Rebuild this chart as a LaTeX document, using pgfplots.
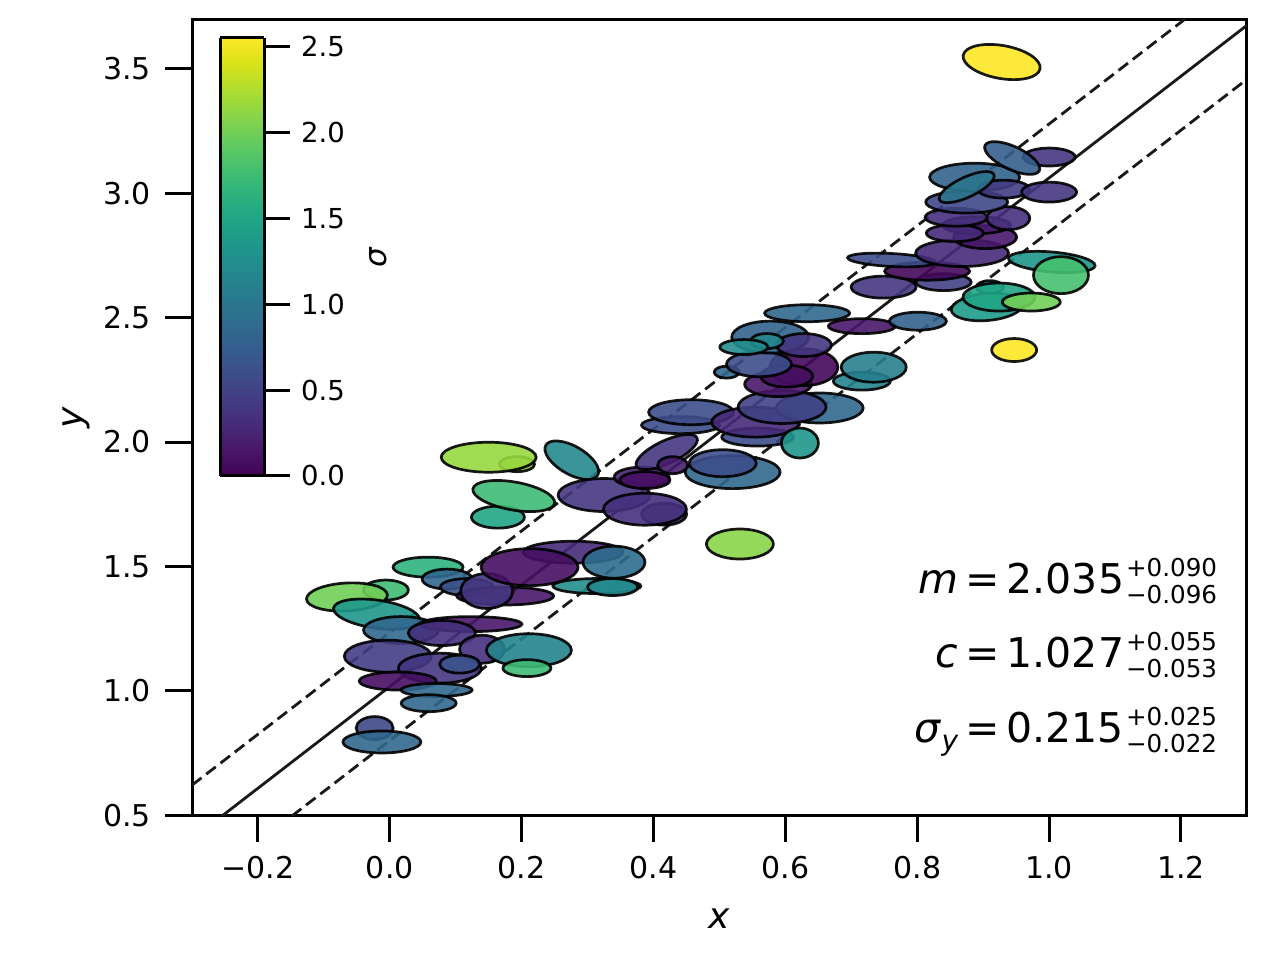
\documentclass[border=0pt]{standalone}
\usepackage{pgfplots}
\pgfplotsset{compat=1.18}
\usepackage{fontspec}
\setmainfont{DejaVu Sans}

\pgfdeclareplotmark{ell}{%
  \pgfscope
  \pgfsetfillopacity{0.9}%
  \pgfsetstrokeopacity{0.9}%
  \pgfsetlinewidth{1.35pt}%
  \pgftransformrotate{\ea}%
  \pgfpathellipse{\pgfpointorigin}{\pgfpoint{\ew pt}{0pt}}{\pgfpoint{0pt}{\eh pt}}%
  \pgfusepathqfillstroke
  \endpgfscope
}
\newcommand{\supsub}[2]{\hspace{1pt}\rlap{\raisebox{8.5pt}{\fontsize{12.3}{12.3}\selectfont #1}}\raisebox{-5pt}{\fontsize{12.3}{12.3}\selectfont #2}}
\newcommand{\eq}{\hspace{0.17em}=\hspace{0.17em}}

\pgfplotstableread{
x y w h a s
-0.006 1.405 45 20 0 1.75
-0.065 1.377 81 28 3 2.0
0.058 1.497 70 20 0 1.65
-0.020 1.308 87 28 -8 1.35
0.087 1.449 50 20 0 0.85
0.117 1.417 53 17 0 0.65
0.175 1.381 97 18 0 0.15
0.147 1.401 52 35 0 0.4
0.017 1.244 75 27 0 0.85
0.123 1.268 102 15 0 0.15
0.079 1.232 67 25 0 0.35
0.140 1.167 45 28 0 0.35
0.211 1.163 85 33 0 1.15
0.208 1.091 48 17 0 1.75
-0.003 1.139 87 32 0 0.45
0.076 1.091 83 30 0 0.4
0.106 1.107 40 18 0 0.65
0.012 1.039 77 18 0 0.1
0.071 1.003 71 13 0 0.85
0.059 0.950 55 17 0 0.85
-0.023 0.850 37 23 0 0.55
-0.012 0.794 78 22 0 0.85
0.278 1.557 100 22 0 0.3
0.212 1.497 97 37 0 0.1
0.314 1.421 88 15 0 1.25
0.338 1.417 50 17 0 1.2
0.340 1.517 62 32 0 0.9
0.193 1.911 35 15 0 2.15
0.150 1.939 95 30 0 2.15
0.276 1.927 60 28 -30 1.2
0.164 1.698 53 22 0 1.5
0.188 1.783 83 28 -10 1.75
0.325 1.787 92 33 0 0.4
0.416 1.710 45 22 0 0.35
0.387 1.730 83 32 0 0.35
0.382 1.859 55 20 0 0.25
0.387 1.847 50 17 0 0.1
0.420 1.960 67 23 25 0.4
0.429 1.907 30 17 0 0.2
0.441 2.068 78 17 0 0.6
0.457 2.120 85 25 0 0.6
0.520 1.879 95 33 0 0.85
0.505 1.915 67 27 0 0.6
0.531 1.590 67 30 0 2.1
0.558 2.020 72 18 0 0.6
0.555 2.080 88 30 0 0.3
0.622 1.996 37 30 0 1.35
0.652 2.137 87 30 0 0.85
0.595 2.141 88 33 0 0.5
0.589 2.233 67 25 0 0.15
0.628 2.301 68 37 0 0.05
0.602 2.265 52 22 0 0.1
0.511 2.281 25 12 0 0.85
0.560 2.313 65 25 0 0.6
0.577 2.422 77 32 0 0.8
0.628 2.390 55 23 0 0.4
0.572 2.406 33 15 0 1.2
0.537 2.382 48 15 0 1.25
0.633 2.518 85 17 0 0.85
0.716 2.466 67 15 0 0.15
0.801 2.486 57 18 0 0.8
0.716 2.245 57 18 0 1.15
0.734 2.301 65 30 0 1.1
0.749 2.623 65 22 0 0.4
0.840 2.643 55 17 0 0.5
0.815 2.687 85 18 0 0.05
0.761 2.732 88 13 -3 0.6
0.868 2.760 93 27 0 0.3
0.903 2.824 63 23 0 0.15
0.890 2.872 68 17 0 0.2
0.857 2.840 57 17 0 0.3
0.938 2.900 43 23 0 0.35
0.859 2.904 62 18 0 0.35
0.875 2.965 82 22 0 0.55
0.887 3.065 90 28 0 0.8
0.931 3.017 52 18 0 0.45
0.875 3.025 60 20 25 1.0
1.000 3.005 55 20 0 0.4
1.000 3.146 52 18 0 0.4
0.944 3.142 60 23 -25 0.75
0.910 2.623 27 13 0 1.3
0.906 2.543 72 27 5 1.4
0.924 2.583 72 28 0 1.5
0.973 2.563 58 18 0 2.0
1.004 2.724 87 20 -5 1.35
1.018 2.671 55 37 0 1.8
0.947 2.370 45 23 0 2.55
0.928 3.528 78 33 -10 2.55
}\ellipses

\begin{document}
\begin{tikzpicture}
\begin{axis}[
  name=main,
  scale only axis,
  width=527.4pt, height=397.9pt,
  xmin=-0.3, xmax=1.3, ymin=0.5, ymax=3.7,
  xtick={-0.2,0,0.2,0.4,0.6,0.8,1.0,1.2},
  xticklabels={−0.2,0.0,0.2,0.4,0.6,0.8,1.0,1.2},
  ytick={0.5,1.0,1.5,2.0,2.5,3.0,3.5},
  yticklabels={0.5,1.0,1.5,2.0,2.5,3.0,3.5},
  tick align=outside, tick pos=left,
  major tick length=13.5pt,
  every tick/.style={black, line width=1.5pt},
  axis line style={line width=1.5pt},
  ticklabel style={font=\fontsize{15}{15}\selectfont},
  xticklabel style={yshift=-3.5pt},
  yticklabel style={xshift=-3.5pt},
  xlabel={\textit{x}}, ylabel={\textit{y}},
  label style={font=\fontsize{18}{18}\selectfont},
  xlabel style={yshift=-8pt},
  colormap/viridis,
  point meta min=0, point meta max=2.55,
  colorbar sampled,
  colorbar style={
    samples=160,
    at={(parent axis.north west)}, anchor=north west,
    xshift=5.5pt, yshift=-9.35pt,
    scale only axis, width=22pt, height=219pt,
    ytick={0,0.5,1.0,1.5,2.0,2.5},
    yticklabels={0.0,0.5,1.0,1.5,2.0,2.5},
    ytick pos=right, yticklabel pos=right,
    tick align=outside,
    major tick length=13pt,
    every tick/.style={black, line width=1.5pt},
    axis line style={line width=1.5pt},
    yticklabel style={font=\fontsize{13.75}{13.75}\selectfont, xshift=2pt},
    ylabel={\textit{σ}},
    ylabel shift=5.5pt,
    ylabel style={font=\fontsize{15.5}{15.5}\selectfont},
  },
  clip=true,
]
\addplot[black!90, line width=1.4pt, no markers] coordinates {(-0.3,0.4035) (1.3,3.6755)};
\addplot[black!90, line width=1.4pt, no markers, dash pattern=on 6pt off 3pt] coordinates {(-0.3,0.6205) (1.3,3.8925)};
\addplot[black!90, line width=1.4pt, no markers, dash pattern=on 6pt off 3pt] coordinates {(-0.3,0.1865) (1.3,3.4585)};
\addplot[
  scatter, only marks, mark=ell,
  point meta=explicit,
  scatter/use mapped color={draw=black, fill=mapped color},
  visualization depends on={0.25*\thisrow{w} \as \ew},
  visualization depends on={0.25*\thisrow{h} \as \eh},
  visualization depends on={\thisrow{a} \as \ea},
] table[x=x, y=y, meta=s] {\ellipses};
\node[anchor=base east, font=\fontsize{20.5}{20.5}\selectfont] at (rel axis cs:0.9785,0.279) {\textit{m}\eq 2.035\supsub{+0.090}{−0.096}};
\node[anchor=base east, font=\fontsize{20.5}{20.5}\selectfont] at (rel axis cs:0.9785,0.185) {\textit{c}\eq 1.027\supsub{+0.055}{−0.053}};
\node[anchor=base east, font=\fontsize{20.5}{20.5}\selectfont] at (rel axis cs:0.9785,0.0917) {\textit{σ}\raisebox{-4pt}{\fontsize{14}{14}\selectfont\textit{y}}\eq 0.215\supsub{+0.025}{−0.022}};
\end{axis}
\pgfresetboundingbox
\path ([xshift=-96pt,yshift=-72.5pt]main.south west) rectangle ([xshift=16.55pt,yshift=9.63pt]main.north east);
\end{tikzpicture}
\end{document}
